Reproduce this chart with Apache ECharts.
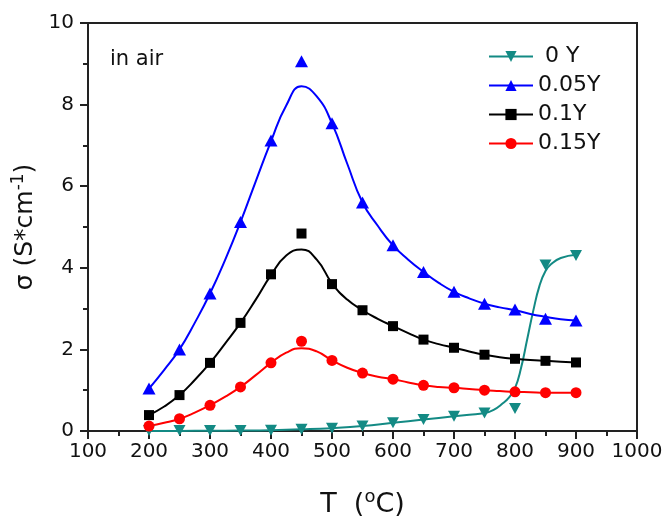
<!DOCTYPE html>
<html>
<head>
<meta charset="utf-8">
<script src="https://cdn.jsdelivr.net/npm/echarts@6/dist/echarts.min.js"></script>
<style>
  html, body { margin: 0; padding: 0; background: #fff; }
  #chart { width: 665px; height: 518px; }
</style>
</head>
<body>
<div id="chart"></div>
<script>
// Measured temperatures (°C)
const temps = [200, 250, 300, 350, 400, 450, 500, 550, 600, 650, 700, 750, 800, 850, 900];

// Measured conductivity σ (S*cm^-1) for each Y content
const sigma0Y   = [0.01, 0.01, 0.01, 0.01, 0.02, 0.04, 0.07, 0.12, 0.20, 0.28, 0.36, 0.44, 0.55, 4.07, 4.30];
const sigma005Y = [1.04, 2.00, 3.37, 5.12, 7.12, 9.06, 7.54, 5.60, 4.55, 3.90, 3.41, 3.12, 2.98, 2.75, 2.71];
const sigma01Y  = [0.39, 0.88, 1.67, 2.65, 3.84, 4.84, 3.60, 2.96, 2.57, 2.24, 2.04, 1.87, 1.77, 1.72, 1.68];
const sigma015Y = [0.12, 0.30, 0.63, 1.08, 1.67, 2.20, 1.73, 1.42, 1.27, 1.12, 1.06, 1.00, 0.96, 0.94, 0.94];

// Fitted trend curves, sampled every 25 °C
const fitTemps = [200, 225, 250, 275, 300, 325, 350, 375, 400, 425, 450, 475, 500, 525, 550,
  575, 600, 625, 650, 675, 700, 725, 750, 775, 800, 825, 850, 875, 900];
const fit005Y = [1.04, 1.50, 2.00, 2.65, 3.37, 4.20, 5.12, 6.12, 7.10, 7.98, 8.45, 8.20, 7.54, 6.55, 5.60,
  5.03, 4.55, 4.20, 3.90, 3.63, 3.41, 3.25, 3.12, 3.03, 2.96, 2.87, 2.80, 2.74, 2.71];
const fit01Y = [0.39, 0.60, 0.88, 1.25, 1.67, 2.15, 2.65, 3.22, 3.82, 4.30, 4.45, 4.20, 3.62, 3.22, 2.96,
  2.75, 2.57, 2.40, 2.24, 2.13, 2.04, 1.95, 1.87, 1.81, 1.77, 1.74, 1.72, 1.70, 1.68];
const fit015Y = [0.12, 0.20, 0.30, 0.45, 0.63, 0.84, 1.08, 1.37, 1.67, 1.92, 2.03, 1.95, 1.73, 1.55, 1.42,
  1.33, 1.27, 1.19, 1.12, 1.08, 1.06, 1.03, 1.00, 0.98, 0.96, 0.95, 0.94, 0.94, 0.94];

// The 0 Y trend turns up sharply near 800 °C, so it is sampled more finely there
const fit0YTemps = [200, 250, 300, 350, 400, 450, 500, 550, 600, 650, 700, 725, 750, 765, 780, 790,
  800, 810, 820, 830, 840, 850, 860, 875, 900];
const fit0Y = [0.0, 0.002, 0.005, 0.01, 0.02, 0.04, 0.07, 0.12, 0.20, 0.28, 0.36, 0.40, 0.44, 0.52, 0.68, 0.82,
  1.05, 1.55, 2.25, 2.95, 3.55, 3.92, 4.10, 4.24, 4.32];

const seriesNames = [' 0 Y', '0.05Y', '0.1Y', '0.15Y'];
const xTicks = { min: 100, max: 1000, step: 100 };
const yTicks = { min: 0, max: 10, step: 2 };

const FONT = 'DejaVu Sans';
const TEAL = '#138a84';
const BLUE = '#0000ff';
const BLACK = '#000000';
const RED = '#ff0000';
const DOWN_TRI = 'path://M0,0L10,0L5,9Z';

const zip = (xs, ys) => xs.map((x, i) => [x, ys[i]]);

const groups = [
  { name: seriesNames[0], color: TEAL, symbol: DOWN_TRI, size: [12, 11], pts: sigma0Y, fit: zip(fit0YTemps, fit0Y), constrain: true },
  { name: seriesNames[1], color: BLUE, symbol: 'triangle', size: [13, 12], pts: sigma005Y, fit: zip(fitTemps, fit005Y), constrain: false },
  { name: seriesNames[2], color: BLACK, symbol: 'rect', size: 10, pts: sigma01Y, fit: zip(fitTemps, fit01Y), constrain: false },
  { name: seriesNames[3], color: RED, symbol: 'circle', size: 11, pts: sigma015Y, fit: zip(fitTemps, fit015Y), constrain: false }
];

const series = [];
groups.forEach(g => {
  series.push({
    name: g.name,
    type: 'line',
    data: g.fit,
    smooth: 0.5,
    smoothConstraint: g.constrain,
    showSymbol: false,
    symbol: g.symbol,
    symbolSize: g.size,
    lineStyle: { color: g.color, width: 2 },
    itemStyle: { color: g.color },
    z: 2,
    silent: true
  });
});
groups.forEach(g => {
  series.push({
    name: g.name + ' data',
    type: 'scatter',
    data: zip(temps, g.pts),
    symbol: g.symbol,
    symbolSize: g.size,
    itemStyle: { color: g.color, opacity: 1 },
    z: 3,
    silent: true
  });
});

const chart = echarts.init(document.getElementById('chart'), null, { renderer: 'canvas' });

chart.setOption({
  animation: false,
  backgroundColor: '#ffffff',
  grid: {
    left: 88, right: 28, top: 23, bottom: 87,
    outerBoundsMode: 'none',
    containLabel: false,
    show: true, borderColor: '#222', borderWidth: 2, backgroundColor: 'transparent'
  },
  legend: {
    data: seriesNames,
    orient: 'vertical',
    left: 483,
    top: 40,
    itemWidth: 44,
    itemHeight: 14,
    itemGap: 6,
    textStyle: { fontFamily: FONT, fontSize: 22, color: '#111', lineHeight: 23 }
  },
  xAxis: {
    type: 'value',
    min: xTicks.min, max: xTicks.max, interval: xTicks.step,
    name: '{b|T  (}{s|o}{b|C)}',
    nameLocation: 'middle',
    nameGap: 57,
    nameTextStyle: {
      rich: {
        b: { fontFamily: FONT, fontSize: 27, color: '#111', lineHeight: 34 },
        s: { fontFamily: FONT, fontSize: 18, color: '#111', lineHeight: 18, verticalAlign: 'top' }
      }
    },
    axisLine: { show: true, lineStyle: { color: '#222', width: 2 } },
    axisTick: { show: true, inside: false, length: 8, lineStyle: { color: '#222', width: 2 } },
    minorTick: { show: true, splitNumber: 2, length: 5, lineStyle: { color: '#222', width: 2 } },
    axisLabel: { fontFamily: FONT, fontSize: 20, color: '#111', margin: 11, formatter: v => String(v) },
    splitLine: { show: false }
  },
  yAxis: {
    type: 'value',
    min: yTicks.min, max: yTicks.max, interval: yTicks.step,
    name: '{b|σ (S*cm}{s|-1}{b|)}',
    nameLocation: 'middle',
    nameRotate: 90,
    nameGap: 37,
    nameTextStyle: {
      rich: {
        b: { fontFamily: FONT, fontSize: 25, color: '#111', lineHeight: 30 },
        s: { fontFamily: FONT, fontSize: 17, color: '#111', lineHeight: 17, verticalAlign: 'top' }
      }
    },
    axisLine: { show: true, lineStyle: { color: '#222', width: 2 } },
    axisTick: { show: true, inside: false, length: 8, lineStyle: { color: '#222', width: 2 } },
    minorTick: { show: true, splitNumber: 2, length: 5, lineStyle: { color: '#222', width: 2 } },
    axisLabel: { fontFamily: FONT, fontSize: 20, color: '#111', margin: 14, formatter: v => String(v) },
    splitLine: { show: false }
  },
  graphic: [
    {
      type: 'text',
      left: 110,
      top: 49,
      style: { text: 'in air', font: '21px "DejaVu Sans"', fill: '#111' }
    }
  ],
  series: series
});
</script>
</body>
</html>
